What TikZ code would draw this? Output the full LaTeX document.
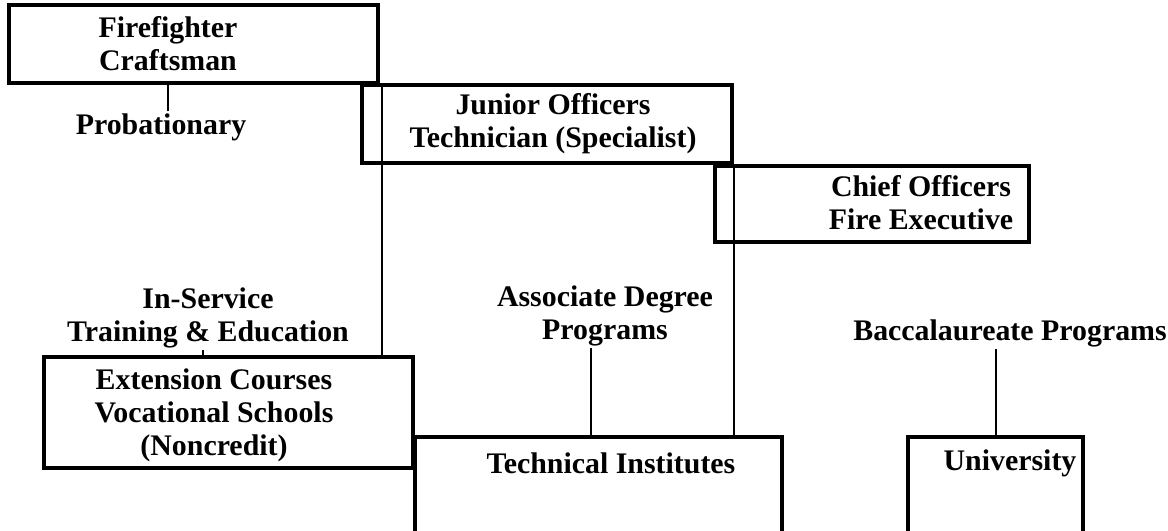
\documentclass[tikz,border=0pt]{standalone}
\usepackage{fontspec}
\setmainfont{Liberation Serif}
\usetikzlibrary{positioning,calc}

\begin{document}
\begin{tikzpicture}[x=0.2mm, y=-0.2mm,
  box/.style={draw, line width=0.75mm, inner sep=0pt},
  lbl/.style={font=\bfseries\fontsize{17}{18.8}\selectfont, align=center, inner sep=1pt},
  link/.style={line width=0.5mm}]
\useasboundingbox (0,0) rectangle (1168,531);

% Ranks
\node[box, minimum width=73.8mm, minimum height=15.6mm] (ff) at (193.5,44) {};
\node[box, minimum width=74mm, minimum height=15.6mm] (jo) at (547,124) {};
\node[box, minimum width=62.8mm, minimum height=15.2mm] (co) at (872,204) {};

% Schools
\node[box, minimum width=73.8mm, minimum height=22.2mm] (ext) at (228.5,412.5) {};
\node[box, minimum width=73.4mm, minimum height=19.2mm] (ti) at (598.5,485) {};
\node[box, minimum width=35mm, minimum height=19.2mm] (uni) at (995.5,485) {};

% Box texts
\node[lbl] (fft) at (168,44) {Firefighter\\Craftsman};
\node[lbl] (jot) at (553,124) {Junior Officers\\Technician (Specialist)};
\node[lbl] (cot) at (921,203) {Chief Officers\\Fire Executive};
\node[lbl] (extt) at (214,415) {Extension Courses\\Vocational Schools\\(Noncredit)};
\node[lbl] (tit) at (611,463) {Technical Institutes};
\node[lbl] (unit) at (1010,463) {University};

% Programs
\node[lbl] (prob) at (161,127) {Probationary};
\node[lbl] (ins) at (208,318) {In-Service\\Training \& Education};
\node[lbl] (assoc) at (605,316) {Associate Degree\\Programs};
\node[lbl] (bacc) at (1010,333) {Baccalaureate Programs};

% Links
\draw[link] ([xshift=1.4mm]prob.north) -- ([xshift=1.4mm]prob.north |- ff.south);
\draw[link] ([xshift=0.4mm]ff.south east) -- ([xshift=0.4mm]ff.south east |- ext.north);
\draw[link] (jo.south east) -- (jo.south east |- ti.north);
\draw[link] ([xshift=-1mm]ins.south) -- ([xshift=-1mm]ins.south |- ext.north);
\draw[link] ([xshift=-2.8mm]assoc.south) -- ([xshift=-2.8mm]assoc.south |- ti.north);
\draw[link] ([xshift=-2.8mm]bacc.south) -- ([xshift=-2.8mm]bacc.south |- uni.north);
\end{tikzpicture}
\end{document}
